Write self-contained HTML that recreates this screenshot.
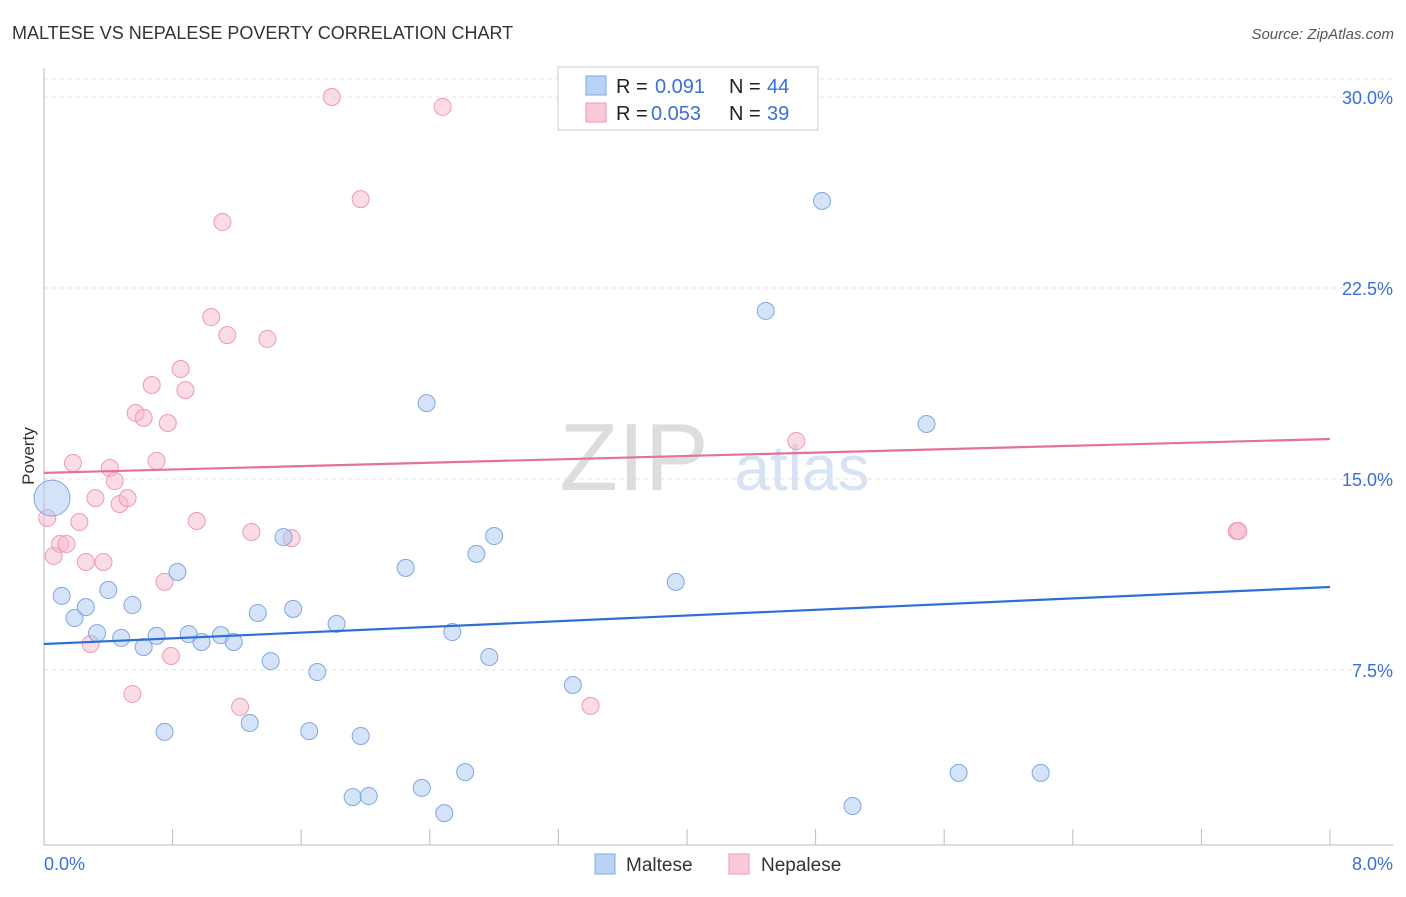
<!DOCTYPE html>
<html><head><meta charset="utf-8"><style>
body{margin:0;background:#fff;font-family:"Liberation Sans",sans-serif}
svg text{font-family:"Liberation Sans",sans-serif}
</style></head><body>
<svg id="c" width="1406" height="892">
<text x="12" y="39" font-size="18" fill="#333">MALTESE VS NEPALESE POVERTY CORRELATION CHART</text>
<text x="1394" y="39" font-size="15" fill="#555" font-style="italic" text-anchor="end">Source: ZipAtlas.com</text>
<text x="634" y="490" font-size="96" fill="#ddd" font-family="Liberation Serif" text-anchor="middle">ZIP</text>
<text x="802" y="490" font-size="64" fill="#d6e3f5" text-anchor="middle">atlas</text>
<text transform="translate(34,456) rotate(-90)" font-size="17" fill="#333" text-anchor="middle">Poverty</text>
<g id="grid"></g><g id="marks"></g>
<g>
<rect x="558" y="67" width="260" height="63" fill="#fff" stroke="#ccc"/>
<rect x="586" y="76" width="20" height="19" fill="#b9d3f5" stroke="#7fa8e0"/>
<rect x="586" y="103" width="20" height="19" fill="#fbc9d8" stroke="#ee9ab5"/>
<text x="616" y="93" font-size="20" fill="#222">R =</text>
<text x="655" y="93" font-size="20" fill="#3a6fd8">0.091</text>
<text x="729" y="93" font-size="20" fill="#222">N =</text>
<text x="767" y="93" font-size="20" fill="#3a6fd8">44</text>
<text x="616" y="120" font-size="20" fill="#222">R =</text>
<text x="651" y="120" font-size="20" fill="#3a6fd8">0.053</text>
<text x="729" y="120" font-size="20" fill="#222">N =</text>
<text x="767" y="120" font-size="20" fill="#3a6fd8">39</text>
</g>
<g>
<rect x="595" y="854" width="20" height="20" fill="#b9d3f5" stroke="#7fa8e0"/>
<text x="626" y="871" font-size="19" fill="#333">Maltese</text>
<rect x="729" y="854" width="20" height="20" fill="#fbc9d8" stroke="#ee9ab5"/>
<text x="761" y="871" font-size="19" fill="#333">Nepalese</text>
</g>
</svg>
<script>
const malteseX=[0.05,0.11,0.19,0.26,0.33,0.40,0.48,0.55,0.62,0.70,0.75,0.83,0.90,0.98,1.10,1.18,1.28,1.33,1.41,1.49,1.55,1.65,1.70,1.82,1.92,1.97,2.02,2.25,2.35,2.38,2.49,2.54,2.62,2.69,2.77,2.80,3.29,3.93,4.49,4.84,5.03,5.49,5.69,6.20];
const malteseY=[14.25,10.41,9.54,9.97,8.95,10.64,8.76,10.05,8.40,8.84,5.07,11.35,8.91,8.60,8.87,8.60,5.42,9.74,7.85,12.72,9.90,5.10,7.42,9.31,2.51,4.91,2.55,11.51,2.87,17.98,1.88,8.99,3.49,12.06,8.01,12.76,6.91,10.96,21.60,25.92,2.16,17.16,3.46,3.46];
const nepaleseX=[0.02,0.06,0.10,0.14,0.18,0.22,0.26,0.29,0.32,0.37,0.41,0.44,0.47,0.52,0.55,0.57,0.62,0.67,0.70,0.75,0.77,0.79,0.85,0.88,0.95,1.04,1.11,1.14,1.22,1.29,1.39,1.54,1.79,1.97,2.48,3.40,4.68,7.42,7.43];
const nepaleseY=[13.47,11.98,12.45,12.45,15.63,13.31,11.74,8.52,14.25,11.74,15.43,14.92,14.02,14.25,6.56,17.59,17.40,18.69,15.71,10.96,17.20,8.05,19.32,18.49,13.35,21.36,25.09,20.65,6.05,12.92,20.50,12.68,30.0,25.99,29.61,6.09,16.49,12.96,12.96];
const trendMaltese=[8.52,10.76];
const trendNepalese=[15.24,16.57];
const yTicks=[7.5,15,22.5,30];
const yTickLabels=["7.5%","15.0%","22.5%","30.0%"];
const xTicks=[0.8,1.6,2.4,3.2,4.0,4.8,5.6,6.4,7.2,8.0];
const NS="http://www.w3.org/2000/svg";
const sx=v=>44+v*(1286/8), sy=v=>861-v*(191/7.5);
function mk(t,a,p){const e=document.createElementNS(NS,t);for(const k in a)e.setAttribute(k,a[k]);p.appendChild(e);return e;}
const g=document.getElementById('grid'),m=document.getElementById('marks');
let e=mk('line',{x1:44,x2:1393,y1:79,y2:79,stroke:'#e2e2e2','stroke-dasharray':'4,4'},g);


yTicks.forEach((t,i)=>{
 let l=mk('line',{x1:44,x2:1393,y1:sy(t),y2:sy(t),stroke:'#e2e2e2','stroke-dasharray':'4,4'},g);
 
 
 let tx=mk('text',{x:1393,y:sy(t)+7,'font-size':18,fill:'#3a6fd8','text-anchor':'end'},g);tx.textContent=yTickLabels[i];
 
 
});
e=mk('line',{x1:44,x2:44,y1:68,y2:845,stroke:'#bbb'},g);


e=mk('line',{x1:44,x2:1393,y1:845,y2:845,stroke:'#bbb'},g);


xTicks.forEach(t=>{
 let l=mk('line',{x1:sx(t),x2:sx(t),y1:829,y2:845,stroke:'#bbb'},g);
 
 
});
[0,8].forEach((t,i)=>{
 let tx=mk('text',{x:i?1393:44,y:870,'font-size':18,fill:'#3a6fd8','text-anchor':i?'end':'start'},g);tx.textContent=t.toFixed(1)+'%';
 
 
});
nepaleseX.forEach((x,i)=>{
 let c=mk('circle',{cx:sx(x),cy:sy(nepaleseY[i]),r:8.5,fill:'rgba(247,184,203,0.5)',stroke:'#ee9ab5','stroke-width':1},m);
 
 
});
malteseX.forEach((x,i)=>{
 let c=mk('circle',{cx:sx(x),cy:sy(malteseY[i]),r:i==0?18:8.5,fill:'rgba(169,200,240,0.5)',stroke:'#7fa8e0','stroke-width':1},m);
 
 
});
e=mk('line',{x1:sx(0),x2:sx(8),y1:sy(trendMaltese[0]),y2:sy(trendMaltese[1]),stroke:'#2c6fd6','stroke-width':2.2},m);


e=mk('line',{x1:sx(0),x2:sx(8),y1:sy(trendNepalese[0]),y2:sy(trendNepalese[1]),stroke:'#e4719a','stroke-width':2.2},m);


</script>
</body></html>
